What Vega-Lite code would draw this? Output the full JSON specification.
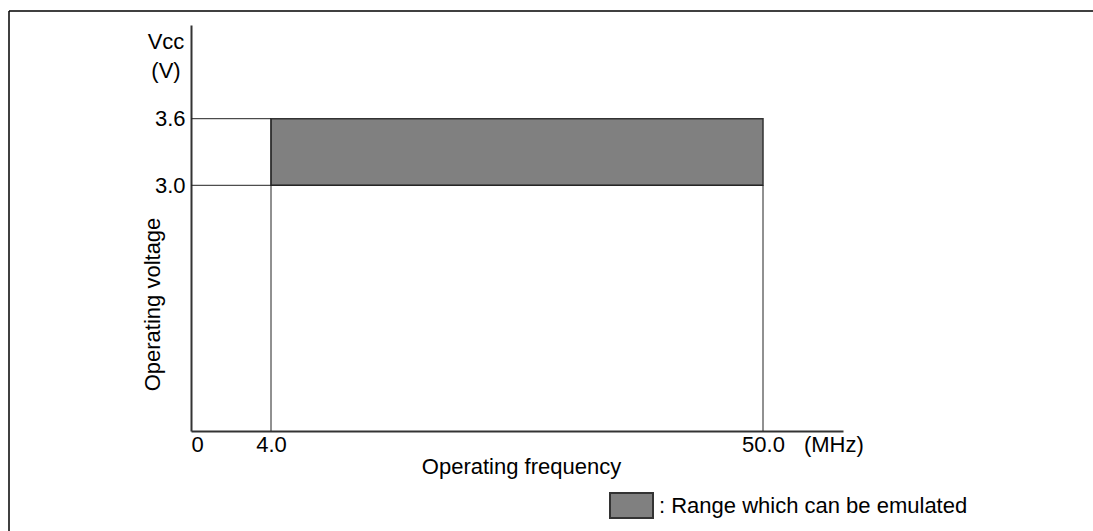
{
  "$schema": "https://vega.github.io/schema/vega-lite/v6.json",
  "width": 652,
  "height": 406,
  "padding": {"left": 8, "top": 10, "right": 0, "bottom": 0},
  "autosize": {"type": "pad"},
  "background": "white",
  "config": {"view": {"stroke": null}, "font": "Liberation Sans"},
  "datasets": {
    "lines": [
      {"f1": 0, "f2": 4, "v1": 3.6, "v2": 3.6},
      {"f1": 0, "f2": 50, "v1": 3.0, "v2": 3.0},
      {"f1": 4, "f2": 4, "v1": 0, "v2": 3.6},
      {"f1": 50, "f2": 50, "v1": 0, "v2": 3.0}
    ],
    "range": [
      {"f1": 4, "f2": 50, "v1": 3.0, "v2": 3.6, "label": ": Range which can be emulated"}
    ]
  },
  "layer": [
    {
      "data": {"name": "range"},
      "mark": {"type": "rect", "stroke": "#333333", "strokeWidth": 1.5},
      "encoding": {
        "x": {
          "field": "f1", "type": "quantitative",
          "scale": {"domain": [0, 4, 50, 55], "range": [0, 80, 572, 652], "nice": false, "zero": false},
          "axis": {
            "values": [0, 4, 50, 54.4],
            "labelExpr": "datum.value == 0 ? '0' : (datum.value > 54 ? '(MHz)' : format(datum.value, '.1f'))",
            "ticks": false, "grid": false,
            "domainColor": "#333333", "domainWidth": 2,
            "labelFontSize": 22, "labelColor": "black", "labelPadding": 3,
            "labelFlush": true, "labelOverlap": false, "labelBound": false,
            "title": "Operating frequency", "titleFontSize": 22, "titleFontWeight": "normal",
            "titleColor": "black", "titleX": 330, "titleY": 42, "titleBaseline": "alphabetic", "titleAlign": "center"
          }
        },
        "x2": {"field": "f2"},
        "y": {
          "field": "v1", "type": "quantitative",
          "scale": {"domain": [0, 3.0, 3.6, 4.5], "range": [406, 160.3, 93.7, 0], "nice": false, "zero": false},
          "axis": {
            "values": [3.0, 3.6], "format": ".1f",
            "ticks": false, "grid": false,
            "domainColor": "#333333", "domainWidth": 2,
            "labelFontSize": 22, "labelColor": "black", "labelPadding": 6,
            "title": "Operating voltage", "titleFontSize": 22, "titleFontWeight": "normal",
            "titleColor": "black", "titleX": -39, "titleY": 279, "titleBaseline": "middle", "titleAlign": "center"
          }
        },
        "y2": {"field": "v2"},
        "fill": {
          "field": "label", "type": "nominal",
          "scale": {"range": ["#808080"]},
          "legend": {
            "orient": "none", "legendX": 418, "legendY": 458, "title": null, "padding": 0,
            "symbolType": "M-1,-0.58L1,-0.58L1,0.58L-1,0.58Z", "symbolSize": 1849,
            "symbolStrokeColor": "#333333", "symbolStrokeWidth": 2, "symbolOpacity": 1,
            "labelFontSize": 22, "labelColor": "black", "labelOffset": 5, "labelLimit": 0
          }
        }
      }
    },
    {
      "data": {"name": "lines"},
      "mark": {"type": "rule", "color": "#222222", "strokeWidth": 1},
      "encoding": {
        "x": {"field": "f1", "type": "quantitative"},
        "x2": {"field": "f2"},
        "y": {"field": "v1", "type": "quantitative"},
        "y2": {"field": "v2"}
      }
    },
    {
      "data": {"values": [{}]},
      "mark": {"type": "rule", "color": "black", "strokeWidth": 1.5},
      "encoding": {
        "x": {"datum": -9.1, "type": "quantitative"},
        "x2": {"datum": 70.69},
        "y": {"datum": 4.634, "type": "quantitative"}
      }
    },
    {
      "data": {"values": [{}]},
      "mark": {"type": "rule", "color": "black", "strokeWidth": 1.5},
      "encoding": {
        "x": {"datum": -9.1, "type": "quantitative"},
        "y": {"datum": 4.634, "type": "quantitative"},
        "y2": {"datum": -1.23}
      }
    },
    {
      "data": {"values": [{}]},
      "mark": {"type": "text", "text": ["Vcc", "(V)"], "align": "center", "baseline": "alphabetic", "fontSize": 22, "lineHeight": 29, "color": "black"},
      "encoding": {
        "x": {"datum": -1.25, "type": "quantitative"},
        "y": {"datum": 4.27, "type": "quantitative"}
      }
    }
  ]
}
